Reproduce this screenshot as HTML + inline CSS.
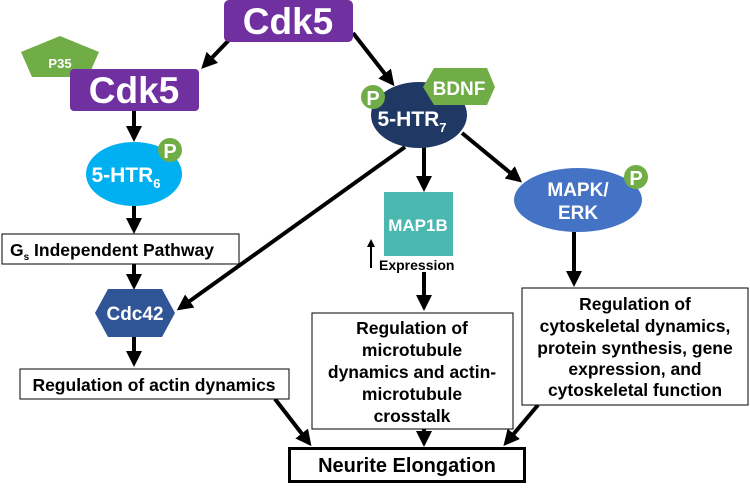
<!DOCTYPE html>
<html><head><style>
body{margin:0;background:#fff}
svg text{font-family:"Liberation Sans",Arial,sans-serif;font-weight:bold}
</style></head><body>
<svg width="750" height="485" viewBox="0 0 750 485" xmlns="http://www.w3.org/2000/svg">
<defs><marker id="a" markerWidth="4" markerHeight="4" refX="3" refY="2" orient="auto" markerUnits="strokeWidth"><path d="M0,0 L4,2 L0,4 z" fill="#000"/></marker></defs>
<g stroke="#000" stroke-width="4" fill="none" marker-end="url(#a)">
<line x1="229" y1="40" x2="204" y2="66"/>
<line x1="353" y1="33" x2="392" y2="83"/>
<line x1="134" y1="111" x2="134" y2="138"/>
<line x1="134" y1="206" x2="134" y2="230"/>
<line x1="134" y1="264" x2="134" y2="286"/>
<line x1="405" y1="147" x2="180" y2="308"/>
<line x1="134" y1="337" x2="134" y2="363"/>
<line x1="275" y1="399" x2="309" y2="443"/>
<line x1="424" y1="147" x2="424" y2="188"/>
<line x1="424" y1="272" x2="424" y2="307"/>
<line x1="424" y1="429" x2="424" y2="443"/>
<line x1="462" y1="133" x2="519" y2="180"/>
<line x1="574" y1="232" x2="574" y2="283"/>
<line x1="538" y1="405" x2="506" y2="443"/>
</g>
<line x1="371" y1="268" x2="371" y2="246" stroke="#000" stroke-width="2"/>
<path d="M367,247 L371,239 L375,247 z" fill="#000"/>
<rect x="224" y="0" width="129" height="42" rx="5" fill="#7030a0"/>
<text x="288" y="34" font-size="37" fill="#fff" text-anchor="middle">Cdk5</text>
<polygon points="21,52 60,36 99,52 88,77 32,77" fill="#70ad47"/>
<text x="60" y="68" font-size="13" fill="#fff" text-anchor="middle">P35</text>
<rect x="70" y="69" width="129" height="42" rx="4" fill="#7030a0"/>
<text x="134" y="103" font-size="37" fill="#fff" text-anchor="middle">Cdk5</text>
<ellipse cx="134" cy="174" rx="48" ry="32" fill="#00b0f0"/>
<text x="126" y="182" font-size="21" fill="#fff" text-anchor="middle">5-HTR<tspan font-size="13" dy="6">6</tspan></text>
<circle cx="170" cy="150" r="12" fill="#70ad47"/>
<text x="170" y="158" font-size="20" fill="#fff" text-anchor="middle">P</text>
<rect x="2" y="234" width="237" height="30" fill="#fff" stroke="#000" stroke-width="1"/>
<text x="10" y="256" font-size="17.5" fill="#000">G<tspan font-size="10" dy="4">s</tspan><tspan dy="-4"> Independent Pathway</tspan></text>
<polygon points="108,289 162,289 175,313 162,337 108,337 95,313" fill="#2f5597"/>
<text x="135" y="320" font-size="19" fill="#fff" text-anchor="middle">Cdc42</text>
<rect x="20" y="369" width="269" height="30" fill="#fff" stroke="#000" stroke-width="1"/>
<text x="154" y="391" font-size="17.5" fill="#000" text-anchor="middle">Regulation of actin dynamics</text>
<ellipse cx="419" cy="115" rx="48" ry="33" fill="#203864"/>
<text x="412" y="126" font-size="21" fill="#fff" text-anchor="middle">5-HTR<tspan font-size="13" dy="6">7</tspan></text>
<circle cx="373" cy="97" r="12" fill="#70ad47"/>
<text x="373" y="105" font-size="20" fill="#fff" text-anchor="middle">P</text>
<polygon points="434,68 487,68 495,87 487,105 434,105 423,87" fill="#70ad47"/>
<text x="459" y="95" font-size="19" fill="#fff" text-anchor="middle">BDNF</text>
<rect x="384" y="192" width="69" height="64" fill="#4bb8b0"/>
<text x="418" y="231" font-size="17" fill="#fff" text-anchor="middle">MAP1B</text>
<text x="379" y="270" font-size="14" fill="#000">Expression</text>
<rect x="312" y="313" width="201" height="116" fill="#fff" stroke="#000" stroke-width="1"/>
<g font-size="17.5" fill="#000" text-anchor="middle">
<text x="412" y="334">Regulation of</text>
<text x="412" y="356">microtubule</text>
<text x="412" y="378">dynamics and actin-</text>
<text x="412" y="400">microtubule</text>
<text x="412" y="422">crosstalk</text>
</g>
<ellipse cx="578" cy="200" rx="64" ry="32" fill="#4472c4"/>
<text x="578" y="196" font-size="19" fill="#fff" text-anchor="middle">MAPK/</text>
<text x="578" y="219" font-size="19" fill="#fff" text-anchor="middle">ERK</text>
<circle cx="636" cy="177" r="12" fill="#70ad47"/>
<text x="636" y="185" font-size="20" fill="#fff" text-anchor="middle">P</text>
<rect x="522" y="288" width="226" height="117" fill="#fff" stroke="#000" stroke-width="1"/>
<g font-size="17.5" fill="#000" text-anchor="middle">
<text x="635" y="310">Regulation of</text>
<text x="635" y="332">cytoskeletal dynamics,</text>
<text x="635" y="354">protein synthesis, gene</text>
<text x="635" y="375">expression, and</text>
<text x="635" y="396">cytoskeletal function</text>
</g>
<rect x="289.5" y="448.5" width="235" height="33" fill="#fff" stroke="#000" stroke-width="3"/>
<text x="407" y="472" font-size="20" fill="#000" text-anchor="middle">Neurite Elongation</text>
</svg>
</body></html>
